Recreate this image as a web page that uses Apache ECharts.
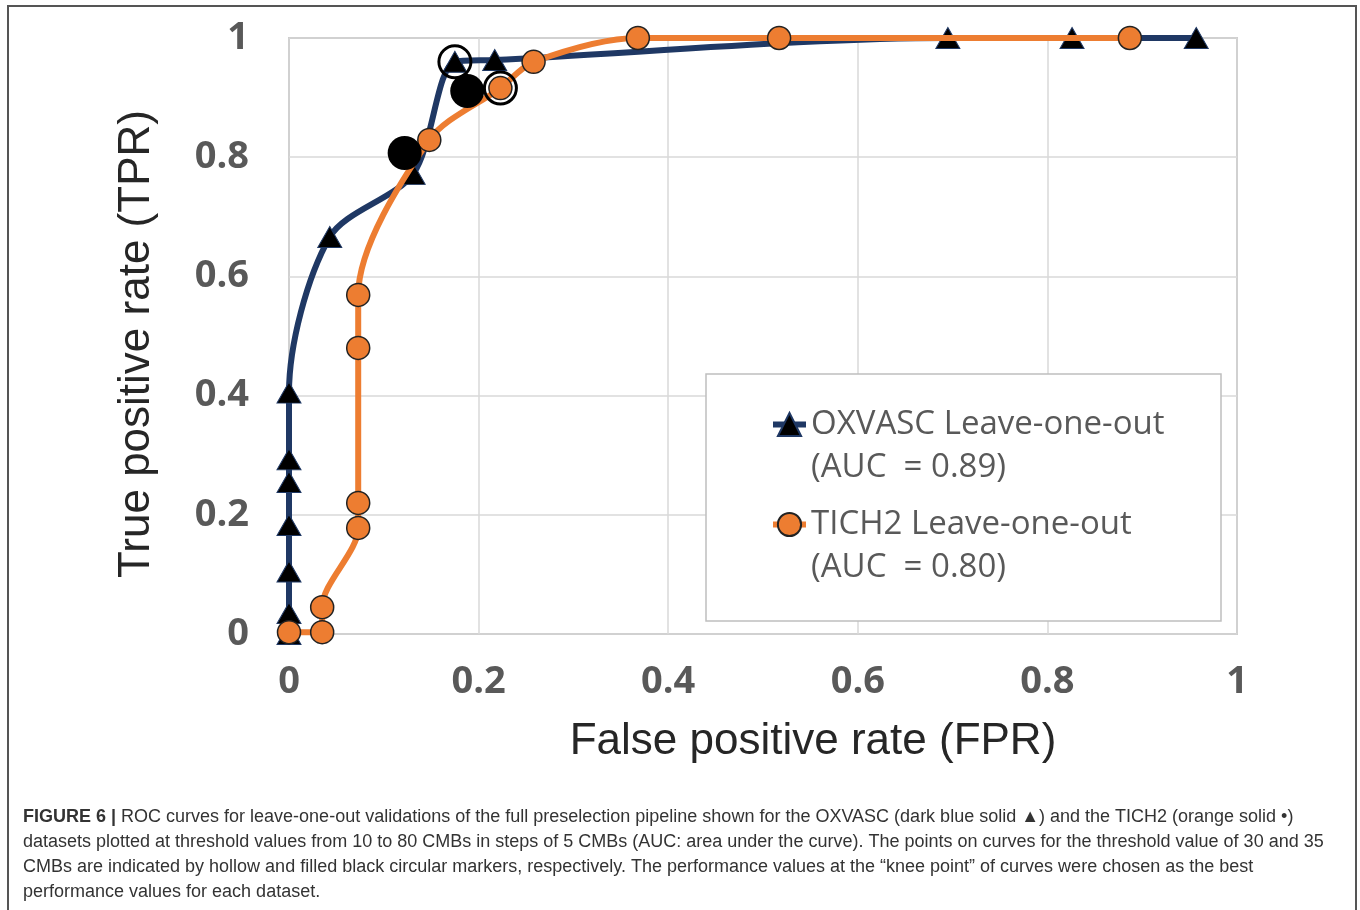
<!DOCTYPE html>
<html>
<head>
<meta charset="utf-8">
<script src="https://cdn.jsdelivr.net/npm/echarts@6/dist/echarts.min.js"></script>
<style>
  html, body { margin: 0; padding: 0; background: #fff; }
  #main { width: 1360px; height: 910px; }
</style>
</head>
<body>
<div id="main"></div>
<script>
// OXVASC leave-one-out (dark blue, triangles)
const oxvascFpr = [0, 0, 0, 0, 0, 0, 0, 0.043, 0.131, 0.175, 0.217, 0.695, 0.826, 0.957];
const oxvascTpr = [0, 0.035, 0.105, 0.183, 0.255, 0.293, 0.405, 0.666, 0.772, 0.96, 0.963, 1, 1, 1];

// TICH2 leave-one-out (orange, circles)
const tichFpr = [0, 0.035, 0.035, 0.073, 0.073, 0.073, 0.073, 0.148, 0.223, 0.258, 0.368, 0.517, 0.887];
const tichTpr = [0.003, 0.003, 0.045, 0.178, 0.22, 0.48, 0.569, 0.829, 0.916, 0.96, 1, 1, 1];

// threshold 30 (hollow) and 35 (filled) markers
const hollowFpr = [0.175, 0.223];
const hollowTpr = [0.96, 0.916];
const filledFpr = [0.122, 0.188];
const filledTpr = [0.807, 0.911];

const seriesNames = ['OXVASC Leave-one-out', 'TICH2 Leave-one-out'];
const aucLabels = ['(AUC  = 0.89)', '(AUC  = 0.80)'];

const caption =
  '{b|FIGURE 6 |} ROC curves for leave-one-out validations of the full preselection pipeline shown for the OXVASC (dark blue solid \u25B2) and the TICH2 (orange solid \u2022)\n' +
  'datasets plotted at threshold values from 10 to 80 CMBs in steps of 5 CMBs (AUC: area under the curve). The points on curves for the threshold value of 30 and 35\n' +
  'CMBs are indicated by hollow and filled black circular markers, respectively. The performance values at the \u201Cknee point\u201D of curves were chosen as the best\n' +
  'performance values for each dataset.';

const pairs = (xs, ys) => xs.map((x, i) => [x, ys[i]]);

const tickLabel = {
  color: '#595959',
  fontFamily: 'Open Sans',
  fontWeight: 'bold',
  fontSize: 38
};

const myChart = echarts.init(document.getElementById('main'));

const option = {
  animation: false,
  backgroundColor: '#fff',
  grid: {
    left: 289, right: 123, top: 38, bottom: 276,
    show: true,
    borderColor: '#a6a6a6',
    borderWidth: 1.5
  },
  xAxis: {
    type: 'value', min: 0, max: 1, interval: 0.2,
    axisLine: { show: false },
    axisTick: { show: false },
    splitLine: { lineStyle: { color: '#d9d9d9', width: 1.5 } },
    axisLabel: Object.assign({ margin: 29 }, tickLabel)
  },
  yAxis: {
    type: 'value', min: 0, max: 1, interval: 0.2,
    axisLine: { show: false },
    axisTick: { show: false },
    splitLine: { lineStyle: { color: '#d9d9d9', width: 1.5 } },
    axisLabel: Object.assign({ margin: 40 }, tickLabel)
  },
  legend: {
    data: seriesNames,
    orient: 'vertical',
    left: 770,
    top: 360,
    padding: 0,
    itemWidth: 33,
    itemHeight: 29,
    itemGap: -29,
    selectedMode: false,
    lineStyle: { width: 6 },
    textStyle: {
      color: '#595959',
      fontFamily: 'Open Sans',
      fontSize: 33,
      lineHeight: 43
    },
    formatter: name => '\n' + name + '\n' + aucLabels[seriesNames.indexOf(name)]
  },
  graphic: [
    {
      type: 'rect', z: 1,
      shape: { x: 706, y: 374, width: 515, height: 247 },
      style: { fill: '#fff', stroke: '#bfbfbf', lineWidth: 1.5 }
    },
    {
      type: 'rect', z: 10,
      shape: { x: 8, y: 6, width: 1348, height: 920 },
      style: { fill: 'none', stroke: '#555', lineWidth: 2 }
    },
    {
      type: 'text', z: 10,
      x: 137, y: 344, rotation: Math.PI / 2,
      style: {
        text: 'True positive rate (TPR)',
        fontFamily: 'Liberation Sans', fontSize: 44,
        fill: '#262626', align: 'center', verticalAlign: 'middle'
      }
    },
    {
      type: 'text', z: 10,
      x: 813, y: 742,
      style: {
        text: 'False positive rate (FPR)',
        fontFamily: 'Liberation Sans', fontSize: 44,
        fill: '#262626', align: 'center', verticalAlign: 'middle'
      }
    },
    {
      type: 'text', z: 10,
      x: 23, y: 805,
      style: {
        text: caption,
        fontFamily: 'Liberation Sans', fontSize: 18, lineHeight: 25,
        fill: '#333',
        rich: {
          b: { fontFamily: 'Liberation Sans', fontSize: 18, fontWeight: 'bold', fill: '#333', lineHeight: 25 }
        }
      }
    }
  ],
  series: [
    {
      name: seriesNames[0],
      type: 'line',
      z: 2,
      smooth: 0.3,
      data: pairs(oxvascFpr, oxvascTpr),
      symbol: 'triangle',
      symbolSize: [24, 21],
      lineStyle: { color: '#1F3864', width: 6 },
      itemStyle: { color: '#000', borderColor: '#1F3864', borderWidth: 1 }
    },
    {
      name: seriesNames[1],
      type: 'line',
      z: 3,
      smooth: 0.3,
      data: pairs(tichFpr, tichTpr),
      symbol: 'circle',
      symbolSize: 23,
      lineStyle: { color: '#ED7D31', width: 6 },
      itemStyle: { color: '#ED7D31', borderColor: '#222', borderWidth: 1.5 }
    },
    {
      name: 'threshold 35',
      type: 'scatter',
      z: 5,
      data: pairs(filledFpr, filledTpr),
      symbolSize: 34,
      itemStyle: { color: '#000', opacity: 1 }
    },
    {
      name: 'threshold 30',
      type: 'scatter',
      z: 5,
      data: pairs(hollowFpr, hollowTpr),
      symbolSize: 32,
      itemStyle: { color: 'rgba(0,0,0,0)', borderColor: '#000', borderWidth: 3, opacity: 1 }
    }
  ]
};

myChart.setOption(option);
</script>
</body>
</html>
